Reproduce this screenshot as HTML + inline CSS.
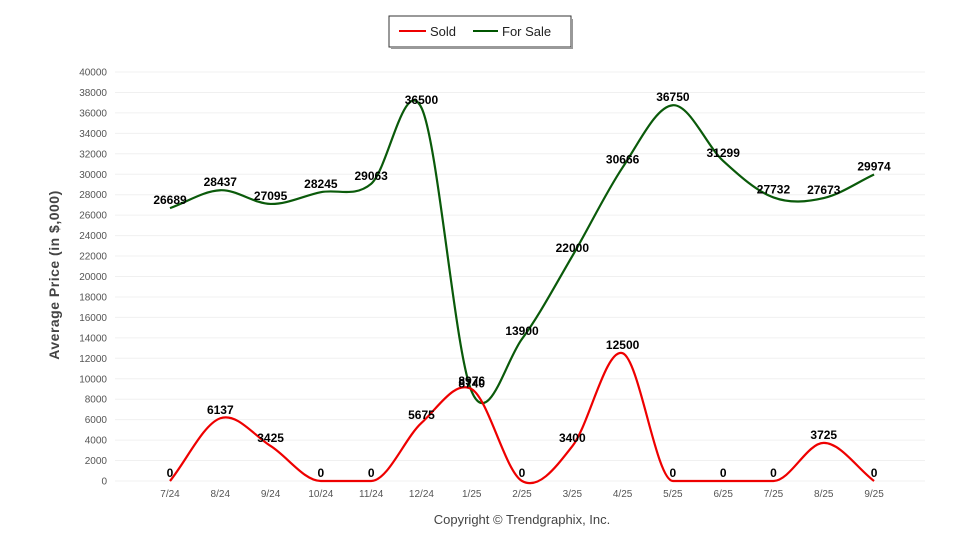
<!DOCTYPE html>
<html><head><meta charset="utf-8"><style>
body{margin:0;background:#fff;}
svg{display:block;font-family:"Liberation Sans",Arial,sans-serif;}
</style></head><body>
<svg id="c" width="960" height="550" xmlns="http://www.w3.org/2000/svg">
<rect x="389" y="16" width="182" height="31" fill="#fff" stroke="#333" stroke-width="1"/>
<line x1="572" y1="19" x2="572" y2="49" stroke="#999" stroke-width="2"/>
<line x1="391" y1="48" x2="572" y2="48" stroke="#999" stroke-width="2"/>
<line x1="399" y1="31" x2="426" y2="31" stroke="#e00" stroke-width="2"/>
<text x="430" y="36" font-size="13" fill="#222">Sold</text>
<line x1="473" y1="31" x2="498" y2="31" stroke="#050" stroke-width="2"/>
<text x="502" y="36" font-size="13" fill="#222">For Sale</text>
<text transform="translate(59,275) rotate(-90)" text-anchor="middle" font-size="14" font-weight="bold" fill="#444" letter-spacing="0.5">Average Price (in $,000)</text>
<text x="522" y="524" text-anchor="middle" font-size="13" fill="#444">Copyright © Trendgraphix, Inc.</text>
<g id="g"></g>
</svg>
<script>
const g=document.getElementById('g');let s='';
const Y=v=>481-v*0.010225, X=i=>170+i*50.29;
for(let v=0;v<=40000;v+=2000){const y=Y(v);
s+=`<line x1="115" y1="${y}" x2="925" y2="${y}" stroke="#f0f0f0" stroke-width="1"/>`;
s+=`<text x="107" y="${y+3.5}" text-anchor="end" font-size="10" fill="#555">${v}</text>`;}
const lab=['7/24','8/24','9/24','10/24','11/24','12/24','1/25','2/25','3/25','4/25','5/25','6/25','7/25','8/25','9/25'];
lab.forEach((l,i)=>s+=`<text x="${X(i)}" y="497" text-anchor="middle" font-size="10" fill="#555">${l}</text>`);
function path(d){const p=d.map((v,i)=>[X(i),Y(v)]);const n=p.length;
const m=p.map((q,i)=>{const a=p[i-1]||q,b=p[i+1]||q;
if((i>0&&d[i]===d[i-1])||(i<n-1&&d[i]===d[i+1]))return 0;return (b[1]-a[1])/(b[0]-a[0]);});
let o=`M${p[0][0]},${p[0][1]}`;
for(let i=0;i<n-1;i++){const p1=p[i],p2=p[i+1],h=(p2[0]-p1[0])/3;
o+=`C${p1[0]+h},${p1[1]+m[i]*h} ${p2[0]-h},${p2[1]-m[i+1]*h} ${p2[0]},${p2[1]}`;}return o;}
const sold=[0,6137,3425,0,0,5675,8976,0,3400,12500,0,0,0,3725,0];
const fs=[26689,28437,27095,28245,29063,36500,8740,13900,22000,30666,36750,31299,27732,27673,29974];
s+=`<path d="${path(fs)}" fill="none" stroke="#0a5a0a" stroke-width="2.2"/>`;
s+=`<path d="${path(sold)}" fill="none" stroke="#e00" stroke-width="2.2"/>`;
[fs,sold].forEach(d=>d.forEach((v,i)=>s+=`<text x="${X(i)}" y="${Y(v)-4}" text-anchor="middle" font-size="12" font-weight="bold" fill="#000">${v}</text>`));
g.innerHTML=s;
</script>
</body></html>
